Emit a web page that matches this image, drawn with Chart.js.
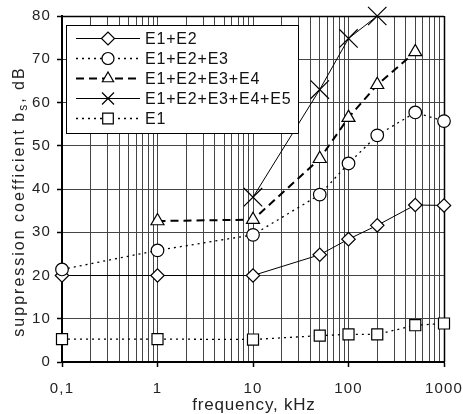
<!DOCTYPE html>
<html>
<head>
<meta charset="utf-8">
<script src="https://cdn.jsdelivr.net/npm/chart.js@4.4.1/dist/chart.umd.min.js"></script>
<style>
  html, body { margin: 0; padding: 0; background: #fff; }
  canvas { display: block; }
</style>
</head>
<body>
<canvas id="chart" width="463" height="414"></canvas>
<script>
// частоты, кГц
const freqAll = [0.1, 1, 10, 50, 100, 200, 500, 1000];
const freqE4 = [1, 10, 50, 100, 200, 500];
const freqE5 = [10, 50, 100, 200];

// коэффициент подавления, дБ
const valE1E2 = [20, 20, 20, 24.8, 28.4, 31.6, 36.3, 36.2];
const valE1E2E3 = [21.4, 25.8, 29.4, 38.7, 45.9, 52.4, 57.7, 55.7];
const valE1E2E3E4 = [32.6, 32.9, 47, 56.5, 64.1, 71.7];
const valE1E2E3E4E5 = [38.1, 63, 74.8, 80];
const valE1 = [5.3, 5.3, 5.2, 6.1, 6.4, 6.4, 8.5, 8.9];

const seriesNames = ['E1+E2', 'E1+E2+E3', 'E1+E2+E3+E4', 'E1+E2+E3+E4+E5', 'E1'];

const xTickValues = [0.1, 1, 10, 100, 1000];
const xTickLabels = ['0,1', '1', '10', '100', '1000'];
const yMin = 0, yMax = 80, yStep = 10;

const xTitle = 'frequency, kHz';
const yTitleMain = 'suppression coefficient b';
const yTitleSub = 's';
const yTitleEnd = ', dB';

// стили серий
const styles = [
  { point: 'rectRot', r: 6.7, lr: 6.5, dash: [], width: 1 },
  { point: 'circle', r: 6.3, lr: 6, dash: [2, 4], width: 1.3 },
  { point: 'triangle', r: 7.5, lr: 6.5, dash: [8, 5], width: 2 },
  { point: 'crossRot', r: 13, lr: 8.5, dash: [], width: 1 },
  { point: 'rect', r: 7.8, lr: 7.5, dash: [2, 4], width: 1.3 }
];

function pts(xs, ys) {
  return xs.map((x, i) => ({ x: x, y: ys[i] }));
}

const seriesData = [
  pts(freqAll, valE1E2),
  pts(freqAll, valE1E2E3),
  pts(freqE4, valE1E2E3E4),
  pts(freqE5, valE1E2E3E4E5),
  pts(freqAll, valE1)
];
const drawOrder = [3, 2, 1, 0, 4];

const datasets = seriesNames.map((name, i) => ({
  label: name,
  data: seriesData[i],
  order: drawOrder[i],
  borderColor: '#000',
  borderWidth: styles[i].width,
  borderDash: styles[i].dash,
  pointStyle: styles[i].point,
  pointRadius: styles[i].r,
  pointBorderWidth: 1.2,
  pointBorderColor: '#000',
  pointBackgroundColor: '#fff',
  legendRadius: styles[i].lr,
  tension: 0,
  clip: false
}));

// сетка по логарифмической оси
function buildLogTicks() {
  const res = [];
  xTickValues.forEach((d, i) => {
    res.push({ value: d, major: true });
    if (i < xTickValues.length - 1) {
      for (let k = 2; k <= 9; k++) res.push({ value: +(d * k).toPrecision(3), major: false });
    }
  });
  return res;
}

const frameAndLegend = {
  id: 'frameAndLegend',
  beforeDraw(chart) {
    chart.ctx.letterSpacing = '1.2px';
  },
  beforeDatasetsDraw(chart) {
    const a = chart.chartArea;
    const ctx = chart.ctx;
    ctx.save();
    ctx.strokeStyle = '#000';
    ctx.lineWidth = 1.5;
    ctx.beginPath();
    ctx.moveTo(a.left, a.top + 0.5);
    ctx.lineTo(a.right, a.top + 0.5);
    ctx.moveTo(a.right + 0.5, a.top);
    ctx.lineTo(a.right + 0.5, a.bottom);
    ctx.stroke();
    ctx.restore();
  },
  afterDraw(chart) {
    const ctx = chart.ctx;
    ctx.save();
    // легенда внутри области графика
    ctx.fillStyle = '#fff';
    ctx.fillRect(66, 25, 232, 108);
    ctx.strokeStyle = '#000';
    ctx.lineWidth = 1;
    ctx.strokeRect(66.5, 25.5, 232, 108);
    chart.data.datasets.forEach((ds, i) => {
      const y = 38.5 + i * 20;
      ctx.strokeStyle = '#000';
      ctx.setLineDash(ds.borderDash);
      ctx.lineWidth = ds.borderWidth;
      ctx.beginPath();
      ctx.moveTo(76, y);
      ctx.lineTo(140, y);
      ctx.stroke();
      ctx.setLineDash([]);
      ctx.lineWidth = 1.2;
      ctx.fillStyle = '#fff';
      Chart.helpers.drawPoint(ctx, { pointStyle: ds.pointStyle, radius: ds.legendRadius, rotation: 0, borderWidth: 1.2 }, 108, y);
      ctx.fillStyle = '#111';
      ctx.font = '16px "Liberation Sans"';
      ctx.letterSpacing = '0.8px';
      ctx.textBaseline = 'middle';
      ctx.textAlign = 'left';
      ctx.fillText(ds.label, 145, y + 1);
    });

    // подписи осей
    ctx.fillStyle = '#222';
    ctx.textBaseline = 'alphabetic';
    ctx.font = '17px "Liberation Sans"';
    ctx.letterSpacing = '0.8px';
    ctx.textAlign = 'center';
    ctx.fillText(xTitle, 254, 410);

    ctx.translate(24, 201.5);
    ctx.rotate(-Math.PI / 2);
    ctx.font = '16px "Liberation Sans"';
    ctx.letterSpacing = '2px';
    ctx.textAlign = 'left';
    const subFont = '12px "Liberation Sans"';
    const w1 = ctx.measureText(yTitleMain).width;
    ctx.font = subFont;
    const w2 = ctx.measureText(yTitleSub).width;
    ctx.font = '16px "Liberation Sans"';
    const w3 = ctx.measureText(yTitleEnd).width;
    let x0 = -(w1 + w2 + w3) / 2;
    ctx.fillText(yTitleMain, x0, 0);
    ctx.font = subFont;
    ctx.fillText(yTitleSub, x0 + w1, 3);
    ctx.font = '16px "Liberation Sans"';
    ctx.fillText(yTitleEnd, x0 + w1 + w2, 0);
    ctx.restore();
  }
};

new Chart(document.getElementById('chart').getContext('2d'), {
  type: 'line',
  data: { datasets: datasets },
  options: {
    responsive: false,
    animation: false,
    layout: { padding: { left: 0, right: 19, top: 16, bottom: 0 } },
    plugins: {
      legend: { display: false },
      tooltip: { enabled: false }
    },
    scales: {
      x: {
        type: 'logarithmic',
        min: 0.1,
        max: 1000,
        afterBuildTicks: s => { s.ticks = buildLogTicks(); },
        afterFit: s => {
          s.height = 52;
          s.paddingLeft = 0;
          s.paddingRight = 0;
        },
        grid: {
          color: '#444',
          lineWidth: 1,
          tickLength: 5,
          tickWidth: 1.5,
          tickColor: c => (c.tick && c.tick.major ? '#000' : 'rgba(0,0,0,0)')
        },
        border: { display: true, color: '#000', width: 2 },
        ticks: {
          autoSkip: false,
          maxRotation: 0,
          padding: 13,
          color: '#222',
          font: { family: 'Liberation Sans', size: 15 },
          callback: function (v) {
            const idx = xTickValues.indexOf(v);
            return idx >= 0 ? xTickLabels[idx] : '';
          }
        }
      },
      y: {
        min: yMin,
        max: yMax,
        afterFit: s => { s.width = 62; },
        grid: {
          color: '#444',
          lineWidth: 1,
          tickLength: 5,
          tickWidth: 1.5,
          tickColor: '#000'
        },
        border: { display: true, color: '#000', width: 2 },
        ticks: {
          stepSize: yStep,
          padding: 6,
          color: '#222',
          font: { family: 'Liberation Sans', size: 15 }
        }
      }
    }
  },
  plugins: [frameAndLegend]
});
</script>
</body>
</html>
